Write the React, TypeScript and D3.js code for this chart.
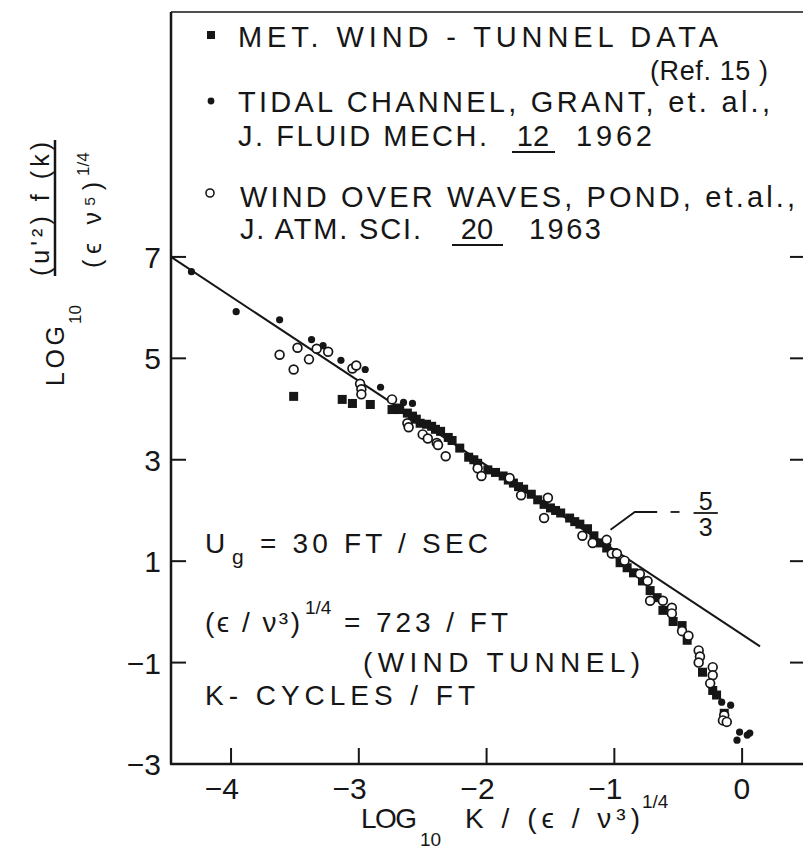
import React from "react";
import * as d3 from "d3";

// axis ticks
const xTicks = [-4, -3, -2, -1, 0];
const yTicks = [-3, -1, 1, 3, 5, 7];
const rightTicks = [-1, 1, 3, 5, 7];

// -5/3 reference line (log10 k, log10 spectrum)
const slopeK = [-4.47, 0.14];
const slopeF = [7.0, -0.68];

// MET wind-tunnel data (filled squares)
const metK = [-3.51, -3.13, -3.05, -2.91, -2.74, -2.7, -2.68, -2.62, -2.58, -2.55, -2.52, -2.47, -2.43, -2.4,
  -2.36, -2.3, -2.27, -2.21, -2.14, -2.1, -2.07, -1.99, -1.93, -1.87, -1.83, -1.79, -1.75, -1.71, -1.65, -1.6,
  -1.55, -1.5, -1.46, -1.42, -1.35, -1.31, -1.27, -1.21, -1.16, -1.11, -1.06, -1.01, -0.955, -0.9, -0.85,
  -0.78, -0.72, -0.665, -0.62, -0.54, -0.47, -0.43, -0.31, -0.23, -0.2, -0.14];
const metF = [4.25, 4.19, 4.11, 4.09, 3.99, 4.02, 3.99, 3.92, 3.86, 3.8, 3.72, 3.7, 3.66, 3.6,
  3.56, 3.44, 3.38, 3.23, 3.05, 3.0, 2.93, 2.8, 2.75, 2.68, 2.6, 2.54, 2.47, 2.42, 2.32, 2.21,
  2.12, 2.05, 2.0, 1.95, 1.85, 1.78, 1.73, 1.64, 1.5, 1.36, 1.26, 1.17, 0.97, 0.87, 0.77,
  0.61, 0.42, 0.28, 0.03, -0.19, -0.27, -0.56, -1.19, -1.55, -1.64, -2.0];

// tidal channel, Grant et al. (small dots)
const tidalK = [-4.31, -3.96, -3.62, -3.37, -3.28, -3.14, -2.95, -2.83, -2.65, -2.58, -0.16, -0.09, -0.02, 0.04, -0.04, 0.06];
const tidalF = [6.71, 5.92, 5.76, 5.37, 5.25, 4.96, 4.78, 4.43, 4.13, 4.11, -1.78, -1.84, -2.37, -2.43, -2.53, -2.39];

// wind over waves, Pond et al. (open circles)
const pondK = [-3.62, -3.48, -3.39, -3.51, -3.33, -3.24, -3.05, -3.02, -2.99, -2.98, -2.98, -2.74, -2.62, -2.61,
  -2.5, -2.46, -2.39, -2.38, -2.32, -2.07, -2.04, -1.82, -1.73, -1.52, -1.55, -1.25, -1.17, -1.06, -1.02,
  -0.98, -0.92, -0.8, -0.74, -0.72, -0.62, -0.55, -0.55, -0.47, -0.42, -0.34, -0.33, -0.34, -0.23, -0.23,
  -0.25, -0.14, -0.15, -0.12];
const pondF = [5.07, 5.21, 4.98, 4.78, 5.19, 5.13, 4.8, 4.86, 4.5, 4.39, 4.29, 4.19, 3.72, 3.64,
  3.5, 3.42, 3.33, 3.29, 3.07, 2.83, 2.68, 2.64, 2.3, 2.25, 1.85, 1.5, 1.36, 1.42, 1.15,
  1.15, 1.01, 0.75, 0.61, 0.22, 0.22, 0.08, -0.03, -0.38, -0.47, -0.76, -0.88, -1.0, -1.09, -1.25,
  -1.41, -2.04, -2.14, -2.17];

// "-5/3" leader (data units)
const leaderK = [-1.03, -0.84, -0.665];
const leaderF = [1.62, 1.97, 1.97];

const FONT = "'Liberation Sans', Arial, sans-serif";
const INK = "#161616";

const App = () => {
  const width = 803;
  const height = 860;

  const x = d3.scaleLinear().domain([-4.47, 0.5]).range([171, 806]);
  const y = d3.scaleLinear().domain([-3, 11.83]).range([764, 12]);

  const line = d3.line<number>()
    .x((d, i) => x(slopeK[i]))
    .y(d => y(d));

  const leader = d3.line<number>()
    .x((d, i) => x(leaderK[i]))
    .y(d => y(d));

  const met = metK.map((k, i) => ({k, f: metF[i]}));
  const tidal = tidalK.map((k, i) => ({k, f: tidalF[i]}));
  const pond = pondK.map((k, i) => ({k, f: pondF[i]}));

  const txt = {fontFamily: FONT, fill: INK};
  const fmt = (t: number) => (t < 0 ? "\u2212" + Math.abs(t) : String(t));

  return (
    <svg width={width} height={height} style={{position: "absolute", left: 0, top: 0, background: "#fff"}}>
      {/* frame */}
      <g stroke={INK} strokeWidth={2.5} fill="none">
        <line x1={x.range()[0]} x2={x.range()[0]} y1={y.range()[1]} y2={y.range()[0]} />
        <line x1={x.range()[0] - 1} x2={x.range()[1]} y1={y.range()[0]} y2={y.range()[0]} />
        <line x1={x.range()[0]} x2={x.range()[1]} y1={y.range()[1]} y2={y.range()[1]} strokeWidth={1.6} />
      </g>

      {/* ticks */}
      <g stroke={INK} strokeWidth={2}>
        {xTicks.map(t => <line key={"xt" + t} x1={x(t)} x2={x(t)} y1={y.range()[0]} y2={y.range()[0] - 16} />)}
        {yTicks.slice(1).map(t => <line key={"yt" + t} x1={x.range()[0]} x2={x.range()[0] + 15} y1={y(t)} y2={y(t)} />)}
        {rightTicks.map(t => <line key={"rt" + t} x1={x.range()[1]} x2={x.range()[1] - 16} y1={y(t)} y2={y(t)} />)}
      </g>
      <g {...txt} fontSize={30}>
        {xTicks.map(t => (
          <text key={"xl" + t} x={x(t) + 8} y={799} textAnchor="end">{fmt(t)}</text>
        ))}
        {yTicks.map(t => (
          <text key={"yl" + t} x={161} y={y(t) + 11} textAnchor="end">{fmt(t)}</text>
        ))}
      </g>

      {/* -5/3 line */}
      <path d={line(slopeF) || ""} fill="none" stroke={INK} strokeWidth={2} />

      {/* data */}
      <g fill={INK}>
        {met.map((d, i) => (
          <rect key={"m" + i} x={x(d.k) - 4.5} y={y(d.f) - 4.5} width={9} height={9} />
        ))}
        {tidal.map((d, i) => (
          <circle key={"t" + i} cx={x(d.k)} cy={y(d.f)} r={3.6} />
        ))}
      </g>
      <g fill="#fff" stroke={INK} strokeWidth={1.7}>
        {pond.map((d, i) => (
          <circle key={"p" + i} cx={x(d.k)} cy={y(d.f)} r={4.4} />
        ))}
      </g>

      {/* slope annotation */}
      <path d={leader(leaderF) || ""} fill="none" stroke={INK} strokeWidth={1.8} />
      <line x1={x(-0.56)} x2={x(-0.49)} y1={y(1.97)} y2={y(1.97)} stroke={INK} strokeWidth={1.8} />
      <line x1={x(-0.38)} x2={x(-0.19)} y1={y(1.95)} y2={y(1.95)} stroke={INK} strokeWidth={1.8} />
      <g {...txt} fontSize={25} textAnchor="middle">
        <text x={x(-0.285)} y={y(1.95) - 3}>5</text>
        <text x={x(-0.285)} y={y(1.95) + 23}>3</text>
      </g>

      {/* legend */}
      <g fill={INK}>
        <rect x={207} y={31} width={8} height={8} />
        <circle cx={211} cy={101} r={3.4} />
        <circle cx={210} cy={193} r={4} fill="#fff" stroke={INK} strokeWidth={1.6} />
      </g>
      <g {...txt} fontSize={29}>
        <text x={238} y={47} textLength={480} lengthAdjust="spacing">MET.  WIND - TUNNEL   DATA</text>
        <text x={650} y={80} fontSize={27} textLength={118} lengthAdjust="spacing">(Ref. 15 )</text>
        <text x={238} y={112} textLength={532} lengthAdjust="spacing">TIDAL  CHANNEL, GRANT, et. al.,</text>
        <text x={238} y={146} textLength={249} lengthAdjust="spacing">J. FLUID MECH.</text>
        <text x={533} y={146} textAnchor="middle">12</text>
        <text x={576} y={146} textLength={76} lengthAdjust="spacing">1962</text>
        <text x={240} y={207} textLength={555} lengthAdjust="spacing">WIND  OVER  WAVES,  POND, et.al.,</text>
        <text x={240} y={239} textLength={181} lengthAdjust="spacing">J. ATM. SCI.</text>
        <text x={477} y={239} textAnchor="middle">20</text>
        <text x={529} y={239} textLength={72} lengthAdjust="spacing">1963</text>
      </g>
      <line x1={512} x2={555} y1={152} y2={152} stroke={INK} strokeWidth={2.2} />
      <line x1={452} x2={503} y1={245} y2={245} stroke={INK} strokeWidth={2.2} />

      {/* conditions text */}
      <g {...txt} fontSize={28}>
        <text x={205} y={553}>U</text>
        <text x={232} y={564} fontSize={21}>g</text>
        <text x={260} y={553} textLength={228} lengthAdjust="spacing">= 30  FT / SEC</text>
        <text x={205} y={632} textLength={95} lengthAdjust="spacing">({"\u03f5"} / {"\u03bd"}{"\u00b3"})</text>
        <text x={305} y={614} fontSize={19}>1/4</text>
        <text x={344} y={632} textLength={164} lengthAdjust="spacing">= 723 / FT</text>
        <text x={363} y={672} textLength={277} lengthAdjust="spacing">(WIND  TUNNEL)</text>
        <text x={205} y={705} textLength={270} lengthAdjust="spacing">K-  CYCLES / FT</text>
      </g>

      {/* x axis title */}
      <g {...txt} fontSize={28}>
        <text x={361} y={828} textLength={56} lengthAdjust="spacing">LOG</text>
        <text x={420} y={846} fontSize={19}>10</text>
        <text x={465} y={828} textLength={175} lengthAdjust="spacing">K / ({"\u03f5"} / {"\u03bd"}{"\u00b3"})</text>
        <text x={642} y={808} fontSize={19}>1/4</text>
      </g>

      {/* y axis title */}
      <g transform="translate(64, 386) rotate(-90)" {...txt} fontSize={25}>
        <text x={0} y={0} textLength={60} lengthAdjust="spacing">LOG</text>
        <text x={62} y={17} fontSize={17}>10</text>
        <text x={110} y={-15} textLength={134} lengthAdjust="spacing">(u'{"\u00b2"}) f (k)</text>
        <line x1={110} x2={246} y1={-9} y2={-9} stroke={INK} strokeWidth={2.5} />
        <text x={118} y={37} textLength={86} lengthAdjust="spacing">({"\u03f5"} {"\u03bd"}{"\u2075"})</text>
        <text x={210} y={25} fontSize={17}>1/4</text>
      </g>
    </svg>
  );
};

export default App;
